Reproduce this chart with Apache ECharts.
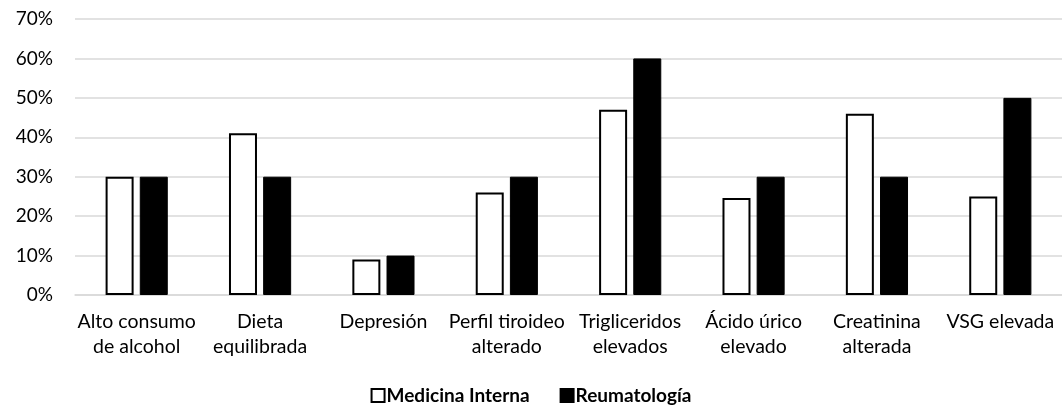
<!DOCTYPE html>
<html>
<head>
<meta charset="utf-8">
<script src="https://cdn.jsdelivr.net/npm/echarts@6/dist/echarts.min.js"></script>
<style>
  html, body { margin: 0; padding: 0; background: #fff; }
  #chart { width: 1062px; height: 414px; }
</style>
</head>
<body>
<div id="chart"></div>
<script>
// Categories and percentages per service
const categories = [
  'Alto consumo\nde alcohol',
  'Dieta\nequilibrada',
  'Depresión',
  'Perfil tiroideo\nalterado',
  'Trigliceridos\nelevados',
  'Ácido úrico\nelevado',
  'Creatinina\nalterada',
  'VSG elevada'
];
const medicinaInterna = [30, 41, 9, 26, 47, 24.6, 46, 25];
const reumatologia = [30, 30, 10, 30, 60, 30, 30, 50];
const seriesNames = ['Medicina Interna', 'Reumatología'];

const FONT = 'Lato, "Open Sans", sans-serif';

const chart = echarts.init(document.getElementById('chart'), null, { renderer: 'canvas' });
chart.setOption({
  animation: false,
  textStyle: { fontFamily: FONT },
  grid: { left: 75, width: 997, top: 19, height: 276, containLabel: false },
  legend: {
    bottom: 4,
    left: 'center',
    itemWidth: 13,
    itemHeight: 13,
    itemGap: 30,
    icon: 'rect',
    textStyle: { fontFamily: FONT, fontSize: 19, fontWeight: 'bold', color: '#000', padding: [0, 0, 0, -3] },
    data: seriesNames
  },
  xAxis: {
    type: 'category',
    data: categories,
    axisLine: { show: true, lineStyle: { color: '#d9d9d9', width: 1.5 } },
    axisTick: { show: false },
    axisLabel: {
      color: '#000',
      fontSize: 19.5,
      lineHeight: 25,
      margin: 14,
      interval: 0,
      fontFamily: FONT
    }
  },
  yAxis: {
    type: 'value',
    min: 0,
    max: 70,
    interval: 10,
    axisLine: { show: false },
    axisTick: { show: false },
    splitLine: { lineStyle: { color: '#d9d9d9', width: 1.5 } },
    axisLabel: {
      color: '#000',
      fontSize: 19,
      margin: 22,
      fontFamily: FONT,
      formatter: v => v + '%'
    }
  },
  series: [
    {
      name: seriesNames[0],
      type: 'bar',
      data: medicinaInterna,
      barWidth: 28,
      barGap: '22%',
      itemStyle: { color: '#fff', borderColor: '#000', borderWidth: 2 }
    },
    {
      name: seriesNames[1],
      type: 'bar',
      data: reumatologia,
      barWidth: 28,
      itemStyle: { color: '#000', borderColor: '#000', borderWidth: 1 }
    }
  ]
});
</script>
</body>
</html>
